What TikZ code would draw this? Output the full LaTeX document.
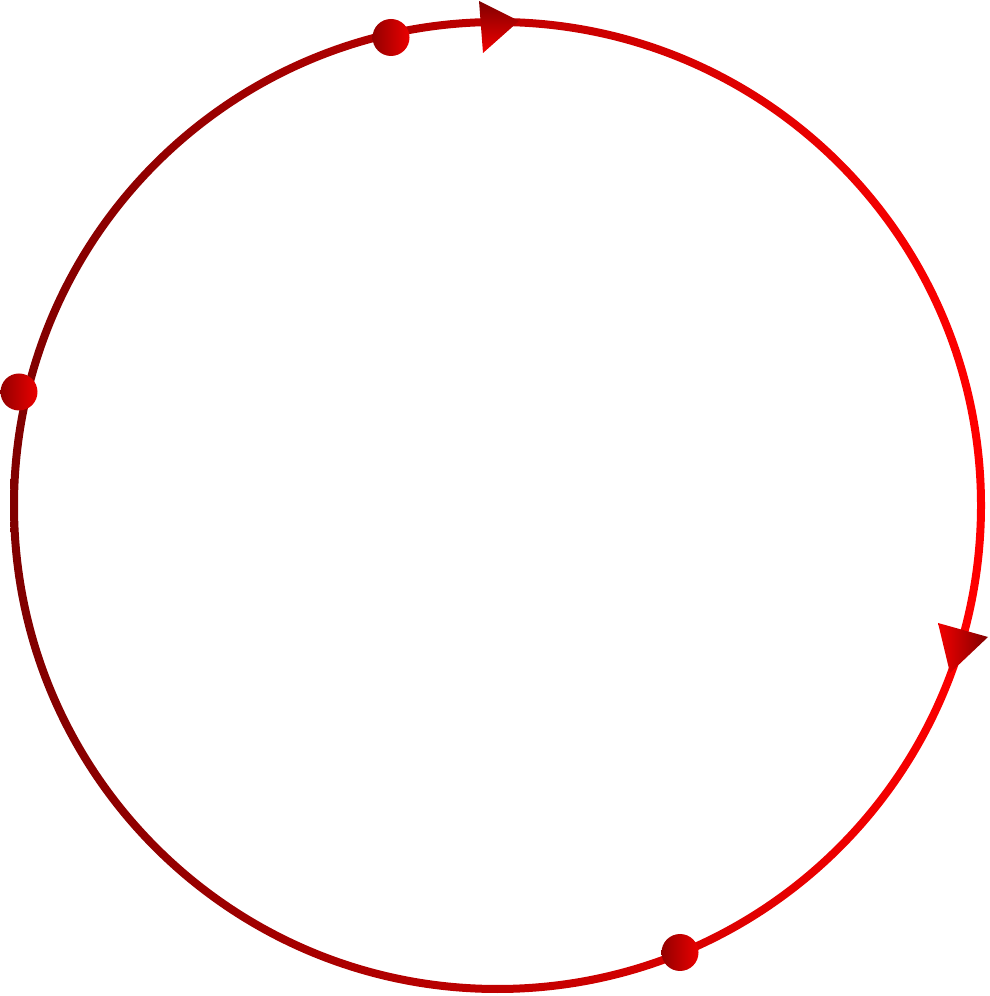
\documentclass[tikz,border=0pt]{standalone}
\usepackage{tikz}
\usetikzlibrary{positioning,calc}
\definecolor{RingDark}{RGB}{128,0,0}
\definecolor{RingLight}{RGB}{255,0,0}

\begin{document}
\begin{tikzpicture}[
        % --- STYLE CHUNG ---
        ring/.style={
            left color=RingDark,
            right color=RingLight,
            even odd rule
        },
        % Style Chấm (quả cầu)
        dot_node/.style={
            circle,
            minimum size=0.37cm,
            inner sep=0pt,
            left color=RingDark!85!red,
            right color=RingLight!92!black
        },
        % Style Mũi tên
        tip_top/.style={
            top color=RingDark,
            bottom color=RingLight!95!black
        },
        tip_side/.style={
            left color=RingLight!95!black,
            right color=RingDark
        }
    ]

        \useasboundingbox (0,0) rectangle (9.89,9.96);

        % --- VÒNG TRÒN ---
        \coordinate (O) at (4.975,4.905);
        \shade[ring] (O) circle (4.875cm) (O) circle (4.795cm);

        % --- MŨI TÊN ---
        \coordinate (T1) at (4.79,9.95);
        \coordinate (T2) at (4.83,9.43);
        \coordinate (T3) at (5.19,9.75);
        \shade[tip_top] (T1) -- (T3) -- (T2) -- cycle;

        \coordinate (S1) at (9.38,3.73);
        \coordinate (S2) at (9.88,3.59);
        \coordinate (S3) at (9.50,3.23);
        \shade[tip_side] (S1) -- (S2) -- (S3) -- cycle;

        % --- CÁC CHẤM ---
        \node[dot_node] (P1) at (3.91,9.585) {};
        \node[dot_node] (P2) at (0.19,6.04) {};
        \node[dot_node] (P3) at (6.80,0.435) {};

    \end{tikzpicture}
\end{document}
